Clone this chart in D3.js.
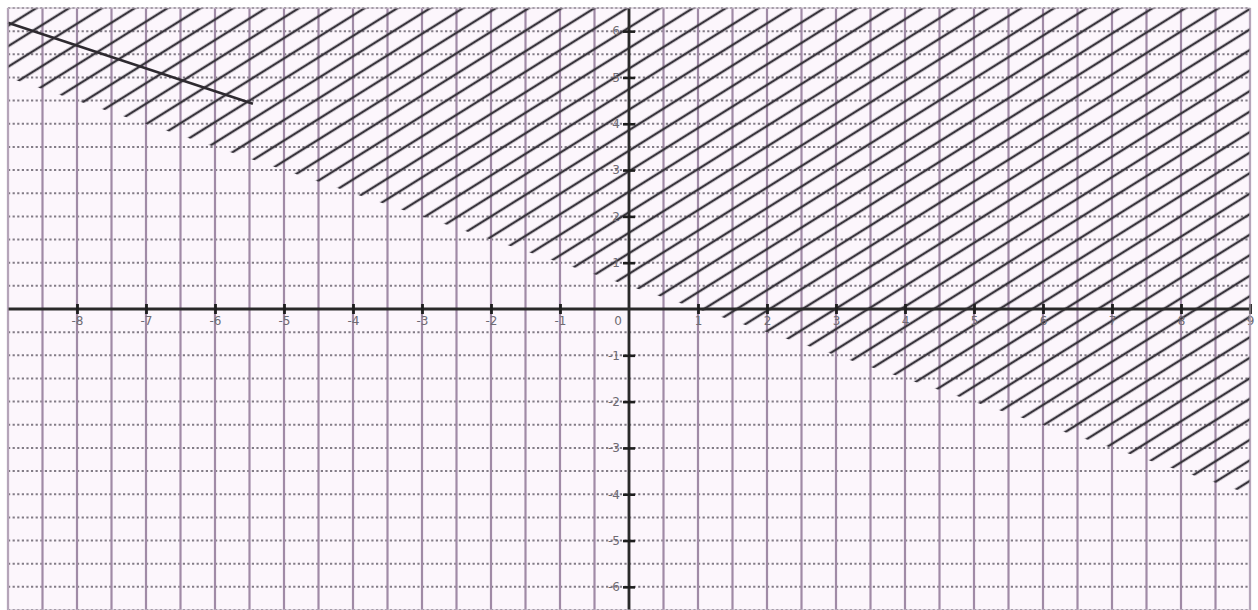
<!DOCTYPE html>
<html>
<head>
<meta charset="utf-8">
<script src="https://cdn.jsdelivr.net/npm/d3@7"></script>
<style>
  html, body { margin: 0; padding: 0; background: #ffffff; }
  svg { display: block; }
</style>
</head>
<body>
<svg id="chart" width="1258" height="610"></svg>
<script>
// ---- data ----
const xDomain = [-9, 9];
const yDomain = [6.5, -6.5];
const xTickValues = [-8, -7, -6, -5, -4, -3, -2, -1, 1, 2, 3, 4, 5, 6, 7, 8, 9];
const yTickValues = [-6, -5, -4, -3, -2, -1, 1, 2, 3, 4, 5, 6];
const gridStep = 0.5;
// boundary of shaded half-plane x + 2y >= 1  (y = -x/2 + 1/2)
const boundaryX = [-9, 9];
const boundaryY = [5, -4];
// short solid segment at top-left
const segX = [-9, -5.45];
const segY = [6.18, 4.43];

// ---- layout ----
const W = 1258, H = 610;
const plot = { left: 8, right: 1250, top: 8, bottom: 610 };

const x = d3.scaleLinear().domain(xDomain).range([plot.left, plot.right]);
const y = d3.scaleLinear().domain(yDomain).range([plot.top, plot.bottom]);

const svg = d3.select("#chart");

// background
svg.append("rect").attr("x", 0).attr("y", 0).attr("width", W).attr("height", H).attr("fill", "#ffffff");
svg.append("rect")
  .attr("x", plot.left).attr("y", plot.top)
  .attr("width", plot.right - plot.left).attr("height", plot.bottom - plot.top)
  .attr("fill", "#fcf6fc");

const defs = svg.append("defs");
const pat = defs.append("pattern")
  .attr("id", "hatch")
  .attr("patternUnits", "userSpaceOnUse")
  .attr("width", 40).attr("height", 17.4)
  .attr("patternTransform", "rotate(-32)");
pat.append("line")
  .attr("x1", -5).attr("x2", 45).attr("y1", 8.7).attr("y2", 8.7)
  .attr("stroke", "#38343c").attr("stroke-width", 2.6);

// grid: horizontal dotted lines
const hVals = d3.range(yDomain[1], yDomain[0] + 1e-9, gridStep);
svg.append("g").selectAll("line").data(hVals).join("line")
  .attr("x1", plot.left).attr("x2", plot.right)
  .attr("y1", d => y(d)).attr("y2", d => y(d))
  .attr("stroke", "#827c86").attr("stroke-width", 2)
  .attr("stroke-dasharray", "2.2,2.4");

// grid: vertical solid lines
const vVals = d3.range(xDomain[0], xDomain[1] + 1e-9, gridStep);
svg.append("g").selectAll("line").data(vVals).join("line")
  .attr("x1", d => x(d)).attr("x2", d => x(d))
  .attr("y1", plot.top).attr("y2", plot.bottom)
  .attr("stroke", "#a08aa6").attr("stroke-width", 2.2);

// shaded region (above boundary)
const region = [
  [boundaryX[0], yDomain[0]],
  [boundaryX[0], boundaryY[0]],
  [boundaryX[1], boundaryY[1]],
  [boundaryX[1], yDomain[0]]
];
svg.append("path")
  .attr("d", d3.line().x(d => x(d[0])).y(d => y(d[1]))(region) + "Z")
  .attr("fill", "url(#hatch)");

// short solid segment
svg.append("path")
  .attr("d", d3.line().x(d => x(d[0])).y(d => y(d[1]))(segX.map((v, i) => [v, segY[i]])))
  .attr("stroke", "#2e2a30").attr("stroke-width", 2.6).attr("fill", "none");

// axes lines
svg.append("line")
  .attr("x1", plot.left).attr("x2", plot.right)
  .attr("y1", y(0)).attr("y2", y(0))
  .attr("stroke", "#2a2a2a").attr("stroke-width", 2.8);
svg.append("line")
  .attr("x1", x(0)).attr("x2", x(0))
  .attr("y1", plot.top).attr("y2", plot.bottom)
  .attr("stroke", "#2a2a2a").attr("stroke-width", 2.8);

// x axis ticks & labels
const xAxis = d3.axisBottom(x).tickValues(xTickValues).tickSize(0).tickPadding(0)
  .tickFormat(d => d3.format("d")(d).replace("−", "-"));
const gx = svg.append("g").attr("transform", `translate(0,${y(0)})`).call(xAxis);
gx.select(".domain").remove();
gx.selectAll(".tick").append("line")
  .attr("y1", -5).attr("y2", 5).attr("stroke", "#1e1e1e").attr("stroke-width", 2.8);
gx.selectAll(".tick text")
  .attr("y", 7).attr("dy", "0.71em")
  .attr("fill", "#6e6a72").attr("font-family", "DejaVu Sans, sans-serif").attr("font-size", 12);

// y axis ticks & labels
const yAxis = d3.axisLeft(y).tickValues(yTickValues).tickSize(0).tickPadding(0)
  .tickFormat(d => d3.format("d")(d).replace("−", "-"));
const gy = svg.append("g").attr("transform", `translate(${x(0)},0)`).call(yAxis);
gy.select(".domain").remove();
gy.selectAll(".tick").append("line")
  .attr("x1", -6).attr("x2", 6).attr("stroke", "#1e1e1e").attr("stroke-width", 2.6);
gy.selectAll(".tick text")
  .attr("x", -9)
  .attr("fill", "#6e6a72").attr("font-family", "DejaVu Sans, sans-serif").attr("font-size", 12);

// origin label
svg.append("text")
  .attr("x", x(0) - 7).attr("y", y(0) + 7).attr("dy", "0.71em")
  .attr("text-anchor", "end")
  .attr("fill", "#6e6a72").attr("font-family", "DejaVu Sans, sans-serif").attr("font-size", 12)
  .text("0");

// plot border
svg.append("rect")
  .attr("x", plot.left).attr("y", plot.top)
  .attr("width", plot.right - plot.left).attr("height", plot.bottom - plot.top)
  .attr("fill", "none").attr("stroke", "#c9bfcc").attr("stroke-width", 1);
</script>
</body>
</html>
